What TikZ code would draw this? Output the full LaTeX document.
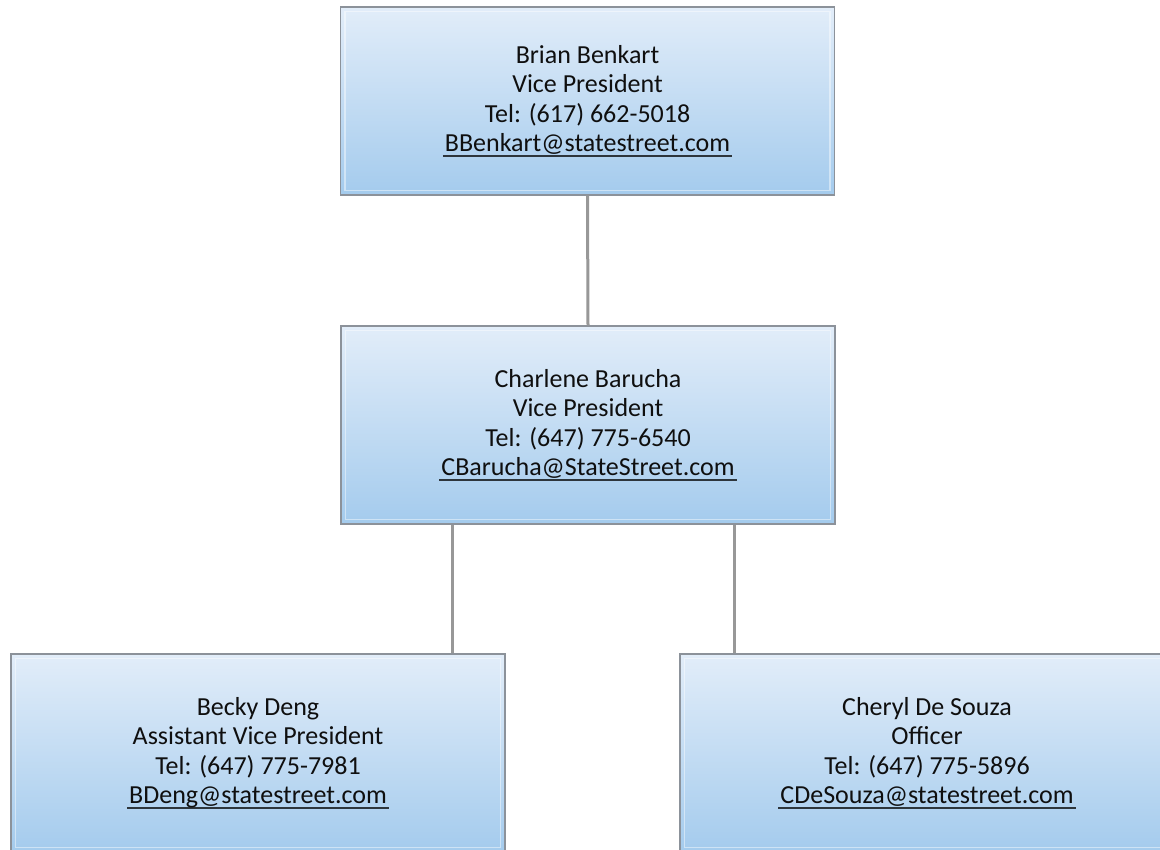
\documentclass[tikz,border=0pt]{standalone}
\usepackage{fontspec}
\setmainfont{Carlito}
\definecolor{boxtop}{RGB}{226,237,249}
\definecolor{boxbot}{RGB}{164,203,237}
\definecolor{boxedge}{RGB}{140,146,154}
\definecolor{linkgray}{RGB}{152,152,152}
\definecolor{inktext}{RGB}{15,15,15}
\newcommand\mailline[1]{\setbox0\hbox{#1}\rlap{\kern-2pt\raisebox{-5pt}{\color{inktext!80!boxbot}\rule{\dimexpr\wd0+4pt\relax}{1.4pt}}}\box0}
\begin{document}
\begin{tikzpicture}[x=1pt,y=-1pt,
  card/.style={draw=boxedge, line width=1.3pt, top color=boxtop, bottom color=boxbot,
    minimum width=494pt, minimum height=#1, inner sep=0pt, align=center,
    text=inktext, font=\fontsize{26}{29.5}\selectfont},
  link/.style={draw=linkgray, line width=3pt}]
\useasboundingbox (0,0) rectangle (1160,850);
\fill[white] (0,0) rectangle (1160,850);

\node[card=188pt] (vp1) at (587.5,101) {Brian Benkart\\Vice President\\Tel: (617) 662-5018\\\mailline{BBenkart@statestreet.com}};
\node[card=198pt] (vp2) at (588,425) {Charlene Barucha\\Vice President\\Tel: (647) 775-6540\\\mailline{CBarucha@StateStreet.com}};
\node[card=198pt] (avp) at (258,753) {Becky Deng\\Assistant Vice President\\Tel: (647) 775-7981\\\mailline{BDeng@statestreet.com}};
\node[card=198pt] (off) at (927,753) {Cheryl De Souza\\Officer\\Tel: (647) 775-5896\\\mailline{CDeSouza@statestreet.com}};

% faint inner highlight along each card
\foreach \n in {vp1,vp2,avp,off}{
  \draw[white, opacity=0.45, line width=1.5pt]
    ([xshift=5pt,yshift=5pt]\n.south west) rectangle ([xshift=-5pt,yshift=-5pt]\n.north east);
}

% reporting lines
\draw[link] (vp1.south) -- (vp2.north);
\draw[link] ([xshift=-136pt]vp2.south) -- ([xshift=-136pt]vp2.south |- avp.north);
\draw[link] ([xshift=146pt]vp2.south) -- ([xshift=146pt]vp2.south |- off.north);
\end{tikzpicture}
\end{document}
